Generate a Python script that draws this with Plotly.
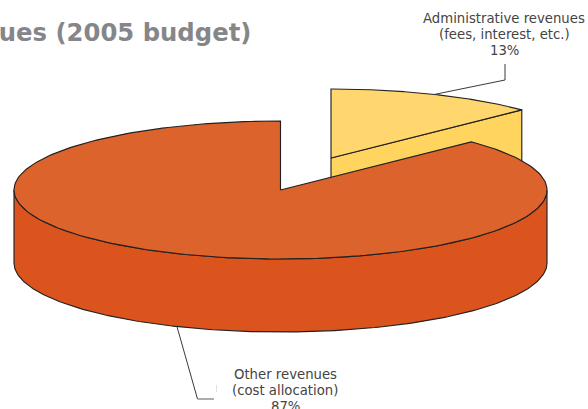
import numpy as np
import plotly.graph_objects as go

label_admin = ["Administrative revenues", "(fees, interest, etc.)", "13%"]
label_other = ["Other revenues", "(cost allocation)", "87%"]
values = [12.7, 87.3]
title = "Revenues (2005 budget)"

W, H = 588, 409
CX, CY, A, B, D = 280.5, 190.0, 266.5, 69.0, 73.0
EX, EY = 50.5, -32.0
C_LINE = "#222222"
C_Y_TOP, C_Y_SIDE = "#FFD76E", "#FFD45F"
C_O_TOP, C_O_SIDE = "#DC632B", "#DB541E"

def ell(cx, cy, t0, t1, n=240):
    t = np.radians(np.linspace(t0, t1, n))
    return cx + A * np.sin(t), cy - B * np.cos(t)

share = values[0] / sum(values)
split = 360 * share
fig = go.Figure()

def poly(x, y, fill, width=1.15):
    fig.add_trace(go.Scatter(x=list(x), y=list(y), mode="lines", fill="toself", fillcolor=fill,
                             line=dict(color=C_LINE, width=width), hoverinfo="skip", showlegend=False))

def leader(x, y, color, width=1.0):
    fig.add_trace(go.Scatter(x=x, y=y, mode="lines", line=dict(color=color, width=width),
                             hoverinfo="skip", showlegend=False))

# yellow exploded slice
yx, yy = CX + EX, CY + EY
ex = yx + A * np.sin(np.radians(split))
ey = yy - B * np.cos(np.radians(split))
poly([yx, ex, ex, yx, yx], [yy, ey, ey + D, yy + D, yy], C_Y_SIDE)
ax, ay = ell(yx, yy, 0, split)
poly([yx, *ax, yx], [yy, *ay, yy], C_Y_TOP)

# orange slice: outer wall, then top
bx, by = ell(CX, CY, 90, 270)
poly([*bx, *bx[::-1], bx[0]], [*by, *(by[::-1] + D), by[0]], C_O_SIDE)
tx, ty = ell(CX, CY, split, 360)
poly([CX, *tx, CX], [CY, *ty, CY], C_O_TOP)

# leader lines anchored on the middle of each slice
m0 = np.radians(split / 2)
leader([yx + A * np.sin(m0), 505, 505], [yy - B * np.cos(m0), 80, 64], "#3a3a3a")
m1 = np.radians(split + (360 - split) / 2)
leader([CX + A * np.sin(m1), 197.5], [CY - B * np.cos(m1) + D, 399], "#3a3a3a")
leader([197.5, 214], [399, 399], "#777777", 1.2)
leader([216.5, 216.5], [385, 392], "#e2e2e2")

font = dict(family="DejaVu Sans", size=13.25, color="#444444")
for i, line in enumerate(label_admin):
    fig.add_annotation(x=504, y=18 + 16 * i, text=line, showarrow=False, font=font,
                       xanchor="center", yanchor="middle")
for i, line in enumerate(label_other):
    fig.add_annotation(x=285, y=374 + 16 * i, text=line, showarrow=False, font=font,
                       xanchor="center", yanchor="middle")
fig.add_annotation(x=252.5, y=32, text="<b>%s</b>" % title, showarrow=False, xanchor="right", yanchor="middle",
                   font=dict(family="DejaVu Sans", size=24.3, color="#85868A"))

fig.update_layout(width=W, height=H, margin=dict(l=0, r=0, t=0, b=0), paper_bgcolor="white", plot_bgcolor="white",
                  showlegend=False,
                  xaxis=dict(range=[0, W], visible=False, fixedrange=True),
                  yaxis=dict(range=[H, 0], visible=False, fixedrange=True))
fig.write_html("out.html", config={"displayModeBar": False},
               post_script="document.body.style.margin='0';document.documentElement.style.overflow='hidden';")
